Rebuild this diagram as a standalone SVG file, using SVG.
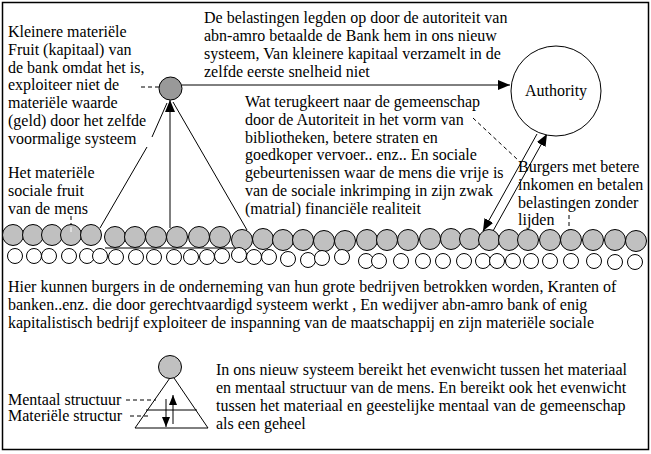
<svg xmlns="http://www.w3.org/2000/svg" width="651" height="454" viewBox="0 0 651 454">
<style>
text{font-family:"Liberation Serif","Times New Roman",serif;font-size:16px;fill:#000}
.ln{stroke:#000;stroke-width:1;fill:none}
.ds{stroke:#000;stroke-width:1;fill:none;stroke-dasharray:4 3}
.g{fill:#c0c0c0;stroke:#000;stroke-width:1}
.w{fill:#fff;stroke:#000;stroke-width:1}
</style>
<defs>
<marker id="arr" viewBox="0 0 12 10" refX="12" refY="5" markerWidth="12" markerHeight="10" markerUnits="userSpaceOnUse" orient="auto">
<path d="M0,0 L12,5 L0,10 z" fill="#000"/>
</marker>
<marker id="arrS" viewBox="0 0 10 8" refX="10" refY="4" markerWidth="10" markerHeight="8" markerUnits="userSpaceOnUse" orient="auto">
<path d="M0,0 L10,4 L0,8 z" fill="#000"/>
</marker>
</defs>
<rect x="2.5" y="2.5" width="646" height="447" fill="#fff" stroke="#000" stroke-width="1.5"/>

<g id="connectors">
<line class="ds" x1="141" y1="87" x2="159" y2="87"/>
<line class="ln" x1="182" y1="85" x2="510" y2="85" marker-end="url(#arr)"/>
<line class="ln" x1="170" y1="228" x2="170" y2="100" marker-end="url(#arr)"/>
<line class="ln" x1="100" y1="228" x2="147" y2="147"/>
<line class="ln" x1="152" y1="137" x2="167" y2="103"/>
<line class="ln" x1="247" y1="230" x2="173" y2="102"/>
<line class="ln" x1="105" y1="248" x2="235" y2="248"/>
<line class="ds" x1="71" y1="216" x2="71" y2="226"/>
<line class="ds" x1="473" y1="118" x2="518" y2="160"/>
<line class="ln" x1="537" y1="134" x2="483" y2="231" marker-end="url(#arr)"/>
<line class="ln" x1="493" y1="231" x2="547" y2="134" marker-end="url(#arr)"/>
<line class="ds" x1="569" y1="215" x2="569" y2="236"/>
</g>

<g id="top-node">
<circle cx="170.5" cy="88.5" r="11.5" fill="#999" stroke="#000"/>
</g>

<g id="authority">
<circle cx="556" cy="91" r="45" fill="#fff" stroke="#000"/>
<text x="556" y="96" text-anchor="middle">Authority</text>
</g>

<g id="grey-row">
<circle class="g" cx="13" cy="235" r="10.5"/>
<circle class="g" cx="33" cy="235" r="10.5"/>
<circle class="g" cx="52" cy="235" r="10.5"/>
<circle class="g" cx="71" cy="235" r="10.5"/>
<circle class="g" cx="91" cy="235" r="10.5"/>
<circle class="g" cx="115" cy="237" r="10.5"/>
<circle class="g" cx="135" cy="237" r="10.5"/>
<circle class="g" cx="156" cy="237" r="10.5"/>
<circle class="g" cx="177" cy="237" r="10.5"/>
<circle class="g" cx="199" cy="237" r="10.5"/>
<circle class="g" cx="220" cy="237" r="10.5"/>
<circle class="g" cx="242" cy="240" r="10.5"/>
<circle class="g" cx="263" cy="239" r="10.5"/>
<circle class="g" cx="283" cy="240" r="10.5"/>
<circle class="g" cx="303" cy="240" r="10.5"/>
<circle class="g" cx="324" cy="241" r="10.5"/>
<circle class="g" cx="345" cy="241" r="10.5"/>
<circle class="g" cx="367" cy="240" r="10.5"/>
<circle class="g" cx="387" cy="240" r="10.5"/>
<circle class="g" cx="408" cy="240" r="10.5"/>
<circle class="g" cx="430" cy="239" r="10.5"/>
<circle class="g" cx="451" cy="239" r="10.5"/>
<circle class="g" cx="470" cy="239" r="10.5"/>
<circle class="g" cx="489" cy="240" r="10.5"/>
<circle class="g" cx="509" cy="240" r="10.5"/>
<circle class="g" cx="528" cy="240" r="10.5"/>
<circle class="g" cx="550" cy="240" r="10.5"/>
<circle class="g" cx="571" cy="240" r="10.5"/>
<circle class="g" cx="593" cy="240" r="10.5"/>
<circle class="g" cx="615" cy="240" r="10.5"/>
<circle class="g" cx="636" cy="241" r="10.5"/>
<line x1="71" y1="227" x2="71" y2="232" stroke="#fff" stroke-width="1"/>
</g>

<g id="white-row">
<circle class="w" cx="15" cy="256" r="7.5"/>
<circle class="w" cx="34" cy="256" r="7.5"/>
<circle class="w" cx="49" cy="256" r="7.5"/>
<circle class="w" cx="69" cy="256" r="7.5"/>
<circle class="w" cx="87" cy="256" r="7.5"/>
<circle class="w" cx="100" cy="256" r="7.5"/>
<circle class="w" cx="116" cy="257" r="7.5"/>
<circle class="w" cx="136" cy="257" r="7.5"/>
<circle class="w" cx="154" cy="257" r="7.5"/>
<circle class="w" cx="174" cy="257" r="7.5"/>
<circle class="w" cx="191" cy="257" r="7.5"/>
<circle class="w" cx="207" cy="257" r="7.5"/>
<circle class="w" cx="222" cy="256" r="7.5"/>
<circle class="w" cx="239" cy="255" r="7.5"/>
<circle class="w" cx="254" cy="257" r="7.5"/>
<circle class="w" cx="269" cy="257" r="7.5"/>
<circle class="w" cx="288" cy="259" r="7.5"/>
<circle class="w" cx="308" cy="260" r="7.5"/>
<circle class="w" cx="322" cy="258" r="7.5"/>
<circle class="w" cx="342" cy="257" r="7.5"/>
<circle class="w" cx="366" cy="261" r="7.5"/>
<circle class="w" cx="379" cy="261" r="7.5"/>
<circle class="w" cx="401" cy="261" r="7.5"/>
<circle class="w" cx="423" cy="261" r="7.5"/>
<circle class="w" cx="443" cy="261" r="7.5"/>
<circle class="w" cx="464" cy="261" r="7.5"/>
<circle class="w" cx="483" cy="261" r="7.5"/>
<circle class="w" cx="497" cy="261" r="7.5"/>
<circle class="w" cx="513" cy="261" r="7.5"/>
<circle class="w" cx="531" cy="261" r="7.5"/>
<circle class="w" cx="550" cy="261" r="7.5"/>
<circle class="w" cx="571" cy="261" r="7.5"/>
<circle class="w" cx="594" cy="261" r="7.5"/>
<circle class="w" cx="615" cy="262" r="7.5"/>
<circle class="w" cx="635" cy="262" r="7.5"/>
</g>

<g id="text-kleinere">
<text x="8" y="37">Kleinere materiële</text>
<text x="8" y="54.75">Fruit (kapitaal) van</text>
<text x="8" y="72.5">de bank omdat het is,</text>
<text x="8" y="90.25">exploiteer niet de</text>
<text x="8" y="108">materiële waarde</text>
<text x="8" y="125.75">(geld) door het zelfde</text>
<text x="8" y="143.5">voormalige systeem</text>
</g>

<g id="text-fruit">
<text x="8" y="178">Het materiële</text>
<text x="8" y="196">sociale fruit</text>
<text x="8" y="214">van de mens</text>
</g>

<g id="text-belastingen">
<text x="204" y="23">De belastingen legden op door de autoriteit van</text>
<text x="204" y="41">abn-amro betaalde de Bank hem in ons nieuw</text>
<text x="204" y="59">systeem, Van kleinere kapitaal verzamelt in de</text>
<text x="204" y="77">zelfde eerste snelheid niet</text>
</g>

<g id="text-terugkeert">
<text x="245" y="107">Wat terugkeert naar de gemeenschap</text>
<text x="245" y="124.75">door de Autoriteit in het vorm van</text>
<text x="245" y="142.5">bibliotheken, betere straten en</text>
<text x="245" y="160.25">goedkoper vervoer.. enz.. En sociale</text>
<text x="245" y="178">gebeurtenissen waar de mens die vrije is</text>
<text x="245" y="195.75">van de sociale inkrimping in zijn zwak</text>
<text x="245" y="213.5">(matrial) financiële realiteit</text>
</g>

<g id="text-burgers">
<text x="518" y="172">Burgers met betere</text>
<text x="518" y="190">inkomen en betalen</text>
<text x="518" y="208">belastingen zonder</text>
<text x="518" y="225">lijden</text>
</g>

<g id="text-hier">
<text x="8" y="292">Hier kunnen burgers in de onderneming van hun grote bedrijven betrokken worden, Kranten of</text>
<text x="8" y="310">banken..enz. die door gerechtvaardigd systeem werkt , En wedijver abn-amro bank of enig</text>
<text x="8" y="328">kapitalistisch bedrijf exploiteer de inspanning van de maatschappij en zijn materiële sociale</text>
</g>

<g id="legend">
<polygon points="172,375 208,428 135,428" fill="#fff" stroke="#000"/>
<line class="ln" x1="146" y1="410" x2="197" y2="410"/>
<circle class="g" cx="170" cy="367" r="11.5"/>
<line class="ln" x1="173" y1="424" x2="173" y2="395" marker-end="url(#arrS)"/>
<line class="ln" x1="166" y1="399" x2="166" y2="427" marker-end="url(#arrS)"/>
<line class="ds" x1="126" y1="400" x2="156" y2="400"/>
<line class="ds" x1="130" y1="416" x2="150" y2="416"/>
<text x="8" y="405">Mentaal structuur</text>
<text x="8" y="421">Materiële structur</text>
</g>

<g id="text-evenwicht">
<text x="216" y="375">In ons nieuw systeem bereikt het evenwicht tussen het materiaal</text>
<text x="216" y="393">en mentaal structuur van de mens. En bereikt ook het evenwicht</text>
<text x="216" y="411">tussen het materiaal en geestelijke mentaal van de gemeenschap</text>
<text x="216" y="429">als een geheel</text>
</g>
</svg>
